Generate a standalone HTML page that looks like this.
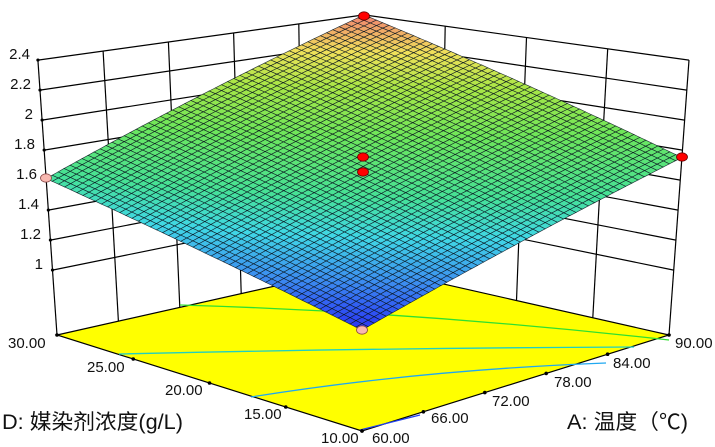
<!DOCTYPE html>
<html><head><meta charset="utf-8"><style>
html,body{margin:0;padding:0;background:#fff;}
svg{display:block;}
text{font-family:"Liberation Sans","Noto Sans CJK SC",sans-serif;fill:#111;}
</style></head><body>
<svg id="s" width="715" height="447" viewBox="0 0 715 447" xmlns="http://www.w3.org/2000/svg">
<g id="walls" stroke="#000" stroke-width="1.2" fill="none"></g>
<polygon points="57,335 364,266 669,335 362,431" fill="#ffff00" stroke="#000" stroke-width="1.2"/>
<g fill="none" stroke-width="1.3">
<path d="M180,305 Q420,312 669,340" stroke="#30e030"/>
<path d="M119,354 Q380,348 634,347" stroke="#20d0c0"/>
<path d="M251,397 Q420,370 606,363" stroke="#20a8f0"/>
<path d="M360,430 L420,415" stroke="#2040f0"/>
</g>
<g id="surf"></g>
<g id="ticks" fill="#000"></g>
<g id="dots"></g>
<g font-size="15">
<text x="30" y="59" text-anchor="end">2.4</text>
<text x="31" y="89" text-anchor="end">2.2</text>
<text x="33" y="119" text-anchor="end">2</text>
<text x="35" y="149" text-anchor="end">1.8</text>
<text x="37" y="179" text-anchor="end">1.6</text>
<text x="39" y="209" text-anchor="end">1.4</text>
<text x="41" y="239" text-anchor="end">1.2</text>
<text x="43" y="269" text-anchor="end">1</text>
<text x="8" y="348">30.00</text>
<text x="87" y="372">25.00</text>
<text x="165" y="395">20.00</text>
<text x="244" y="419">15.00</text>
<text x="321" y="443">10.00</text>
<text x="372" y="443">60.00</text>
<text x="431" y="423">66.00</text>
<text x="492" y="406">72.00</text>
<text x="554" y="387">78.00</text>
<text x="613" y="368">84.00</text>
<text x="675" y="348">90.00</text>
</g>
<g font-size="21">
<text x="2" y="429" textLength="181" lengthAdjust="spacingAndGlyphs">D: 媒染剂浓度(g/L)</text>
<text x="567" y="429" textLength="121" lengthAdjust="spacingAndGlyphs">A: 温度（℃)</text>
</g>
</svg>
<script>
(function(){
var NS="http://www.w3.org/2000/svg";
var F=[362,431],R=[669,335],L=[57,335],B=[364,266];
var z0=0.567;
function bl(f,r,l,b,a,d){return f*(1-a)*(1-d)+r*a*(1-d)+l*(1-a)*d+b*a*d;}
function P(a,d,z){
 var bx=bl(F[0],R[0],L[0],B[0],a,d),by=bl(F[1],R[1],L[1],B[1],a,d);
 var s=bl(162,150,150,137,a,d),k=bl(0,10.9,-10.4,0,a,d),h=z-z0;
 return [bx+k*h,by-s*h];
}
function el(tag,attrs,parent){var e=document.createElementNS(NS,tag);for(var k in attrs)e.setAttribute(k,attrs[k]);parent.appendChild(e);return e;}
function line(p,q,g){el("line",{x1:p[0].toFixed(1),y1:p[1].toFixed(1),x2:q[0].toFixed(1),y2:q[1].toFixed(1)},g);}
var W=document.getElementById("walls");
for(var z=1.0;z<=2.41;z+=0.2){line(P(0,1,z),P(1,1,z),W);line(P(1,0,z),P(1,1,z),W);}
for(var i=0;i<=5;i++){line(P(i/5,1,z0),P(i/5,1,2.4),W);}
for(var j=0;j<=4;j++){line(P(1,j/4,z0),P(1,j/4,2.4),W);}
var T=document.getElementById("ticks");
for(var z=1.0;z<=2.41;z+=0.2){var p=P(0,1,z);el("circle",{cx:p[0],cy:p[1],r:1.6},T);}
for(var i=0;i<=4;i++){var p=P(0,i/4,z0);el("circle",{cx:p[0],cy:p[1],r:1.8},T);}
for(var i=0;i<=5;i++){var p=P(i/5,0,z0);el("circle",{cx:p[0],cy:p[1],r:1.8},T);}
function Z(a,d){return 1.19+0.56*a+0.42*d+0.23*a*d;}
var stops=[[0,[40,50,245]],[0.12,[60,140,240]],[0.24,[64,215,230]],[0.36,[70,225,150]],[0.55,[110,230,90]],[0.72,[170,230,70]],[0.85,[240,225,90]],[1,[240,128,112]]];
function col(z){var t=(z-1.19)/(2.4-1.19);t=Math.max(0,Math.min(1,t));
 for(var i=1;i<stops.length;i++){if(t<=stops[i][0]){var a=stops[i-1],b=stops[i],u=(t-a[0])/(b[0]-a[0]);
  return "rgb("+[0,1,2].map(function(c){return Math.round(a[1][c]+(b[1][c]-a[1][c])*u);}).join(",")+")";}}
 return "rgb(240,128,112)";}
var S=document.getElementById("surf");var N=52;var html="";
for(var i=N-1;i>=0;i--)for(var j=N-1;j>=0;j--){
 var a0=i/N,a1=(i+1)/N,d0=j/N,d1=(j+1)/N;
 var p1=P(a0,d0,Z(a0,d0)),p2=P(a1,d0,Z(a1,d0)),p3=P(a1,d1,Z(a1,d1)),p4=P(a0,d1,Z(a0,d1));
 var zc=Z((a0+a1)/2,(d0+d1)/2);
 html+='<polygon points="'+[p1,p2,p3,p4].map(function(p){return p[0].toFixed(1)+","+p[1].toFixed(1);}).join(" ")+'" fill="'+col(zc)+'" stroke="#0a1620" stroke-width="0.6" stroke-opacity="0.9"/>';
}
S.innerHTML=html;
var D=document.getElementById("dots");
var red=[[364,16],[682,157],[363,157],[363,172]],pink=[[46,178],[362,330]];
red.forEach(function(p){el("ellipse",{cx:p[0],cy:p[1],rx:5.5,ry:4.2,fill:"#ff0000",stroke:"#600","stroke-width":0.8},D);});
pink.forEach(function(p){el("ellipse",{cx:p[0],cy:p[1],rx:5.5,ry:4.2,fill:"#f8b8b0",stroke:"#844","stroke-width":0.8},D);});
})();
</script>
</body></html>
